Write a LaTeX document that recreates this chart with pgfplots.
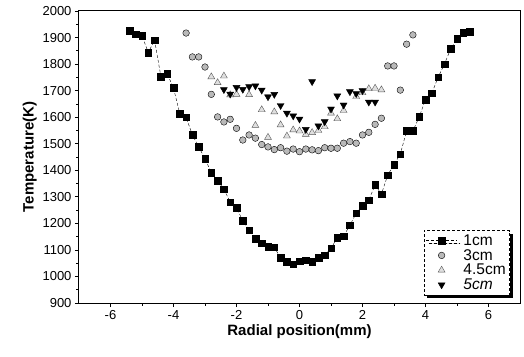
\documentclass[border=0pt]{standalone}
\usepackage{pgfplots}
\pgfplotsset{compat=1.18}
\usepackage{fontspec}
\setmainfont{Liberation Sans}
\usetikzlibrary{shadows}

% radial temperature profiles at four heights above the burner
\pgfplotstableread{
x T
-5.4 1926
-5.2 1912
-5.0 1906
-4.8 1844
-4.6 1890
-4.4 1753
-4.2 1764
-4.0 1710
-3.8 1613
-3.6 1600
-3.4 1533
-3.2 1488
-3.0 1444
-2.8 1391
-2.6 1360
-2.4 1329
-2.2 1280
-2.0 1258
-1.8 1210
-1.6 1175
-1.4 1142
-1.2 1125
-1.0 1111
-0.8 1110
-0.6 1070
-0.4 1055
-0.2 1046
0.0 1058
0.2 1061
0.4 1055
0.6 1071
0.8 1080
1.0 1106
1.2 1146
1.4 1152
1.6 1193
1.8 1238
2.0 1267
2.2 1288
2.4 1345
2.6 1310
2.8 1382
3.0 1421
3.2 1461
3.4 1548
3.6 1548
3.8 1601
4.0 1666
4.2 1690
4.4 1750
4.6 1800
4.8 1857
5.0 1895
5.2 1918
5.4 1921
}\dataA

\pgfplotstableread{
x T
-3.6 1917
-3.4 1827
-3.2 1827
-3.0 1789
-2.8 1686
-2.6 1601
-2.4 1582
-2.2 1592
-2.0 1558
-1.8 1514
-1.6 1533
-1.4 1521
-1.2 1497
-1.0 1488
-0.8 1478
-0.6 1485
-0.4 1472
-0.2 1480
0.0 1470
0.2 1480
0.4 1477
0.6 1474
0.8 1485
1.0 1483
1.2 1483
1.4 1502
1.6 1508
1.8 1502
2.0 1533
2.2 1543
2.4 1573
2.6 1596
2.8 1793
3.0 1793
3.2 1702
3.4 1875
3.6 1910
}\dataB

\pgfplotstableread{
x T
-2.8 1752
-2.6 1730
-2.4 1755
-2.2 1684
-2.0 1686
-1.6 1685
-1.4 1569
-1.2 1628
-1.0 1524
-0.8 1620
-0.6 1571
-0.4 1529
-0.2 1552
0.0 1548
0.2 1535
0.4 1542
0.6 1550
0.8 1564
1.0 1615
1.2 1594
1.4 1625
1.8 1678
2.0 1692
2.2 1707
2.4 1709
2.6 1703
}\dataC

\pgfplotstableread{
x T
-2.4 1704
-2.2 1687
-2.0 1712
-1.8 1705
-1.6 1715
-1.4 1718
-1.2 1702
-1.0 1677
-0.8 1686
-0.6 1644
-0.4 1615
-0.2 1605
0.0 1593
0.2 1554
0.4 1734
0.6 1567
0.8 1583
1.0 1631
1.2 1680
1.4 1646
1.6 1696
1.8 1689
2.0 1700
2.2 1657
2.4 1657
}\dataD

\begin{document}
\begin{tikzpicture}
\begin{axis}[
  scale only axis,
  width=441pt, height=292pt,
  xmin=-7, xmax=7, ymin=900, ymax=2000,
  xtick={-6,-4,...,6}, ytick={900,1000,...,2000},
  minor x tick num=1, minor y tick num=1,
  xtick pos=bottom, ytick pos=left,
  tick align=outside,
  major tick length=4pt, minor tick length=2.5pt,
  axis line style={line width=1pt},
  every tick/.style={black, line width=0.8pt},
  /pgf/number format/assume math mode=true,
  /pgf/number format/1000 sep={},
  ticklabel style={font=\fontsize{13}{15}\selectfont},
  xlabel={\textbf{Radial position(mm)}},
  ylabel={\textbf{Temperature(K)}},
  xlabel style={font=\fontsize{15}{17}\selectfont, yshift=2pt},
  ylabel style={font=\fontsize{15}{17}\selectfont, yshift=-1pt},
  legend image code/.code={%
    \draw[mark repeat=2, mark phase=2, #1]
      plot coordinates {(0cm,0cm) (0.55cm,0cm) (1.1cm,0cm)};},
  legend cell align=left,
  legend style={
    at={(0.977,0.027)}, anchor=south east,
    draw=black, densely dashed, thin,
    fill=white,
    drop shadow={shadow xshift=3pt, shadow yshift=-3pt, fill=black, opacity=1},
    font=\fontsize{15.5}{15.5}\selectfont,
    row sep=-1.5pt, inner sep=2pt,
    /tikz/every odd column/.append style={column sep=4pt},
  },
]
\addplot[black, densely dashed, line width=0.4pt,
  mark=square*, mark size=3.3pt,
  mark options={solid, fill=black}] table {\dataA};
\addlegendentry{1cm}
\addplot[only marks, mark=*, mark size=3.3pt,
  mark options={draw=black, fill=gray!55}] table {\dataB};
\addlegendentry{3cm}
\addplot[only marks, mark=triangle*, mark size=4pt,
  mark options={draw=gray!70!black, fill=gray!25}] table {\dataC};
\addlegendentry{4.5cm}
\addplot[only marks, mark=triangle*, mark size=4pt,
  mark options={rotate=180, draw=black, fill=black}] table {\dataD};
\addlegendentry{\textit{5cm}}
\end{axis}
\pgfresetboundingbox
\path[use as bounding box] (-79pt,-53pt) rectangle (445pt,303pt);
\end{tikzpicture}
\end{document}
